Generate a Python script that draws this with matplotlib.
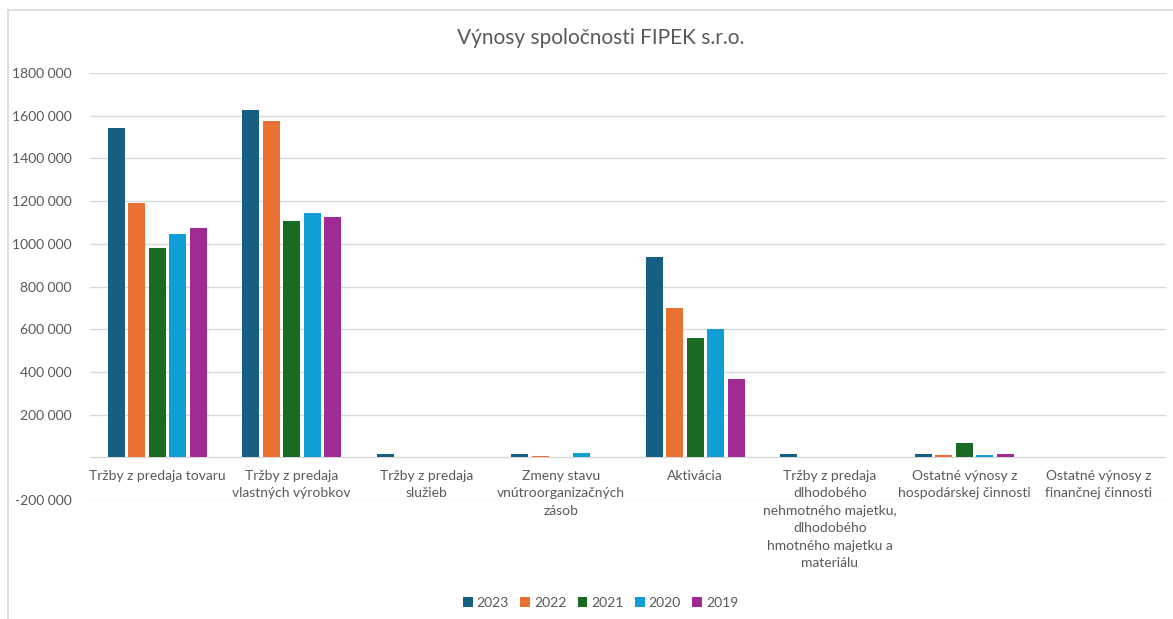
import numpy as np
import matplotlib
matplotlib.use("Agg")
import matplotlib.pyplot as plt
from matplotlib.lines import Line2D
from matplotlib.ticker import FuncFormatter

# údaje odčítané z grafu
kategorie = [
    "Tržby z predaja tovaru",
    "Tržby z predaja\nvlastných výrobkov",
    "Tržby z predaja\nslužieb",
    "Zmeny stavu\nvnútroorganizačných\nzásob",
    "Aktivácia",
    "Tržby z predaja\ndlhodobého\nnehmotného majetku,\ndlhodobého\nhmotného majetku a\nmateriálu",
    "Ostatné výnosy z\nhospodárskej činnosti",
    "Ostatné výnosy z\nfinančnej činnosti",
]
roky = ["2023", "2022", "2021", "2020", "2019"]
v2023 = [1544000, 1628000, 14000, 14000, 940000, 14000, 17000, 0]
v2022 = [1193000, 1577000, 0, 8000, 697000, 0, 12000, 0]
v2021 = [978000, 1109000, 0, 0, 557000, 0, 65000, 0]
v2020 = [1048000, 1146000, 0, 20000, 599000, 0, 12000, 0]
v2019 = [1076000, 1127000, 0, 0, 365000, 0, 17000, 0]
farby = ["#156082", "#E97132", "#196B24", "#0F9ED5", "#A02B93"]

plt.rcParams["font.family"] = ["Lato", "DejaVu Sans"]
seda = "#595959"

fig = plt.figure(figsize=(11.73, 6.19), dpi=100)
ax = fig.add_axes([90 / 1173, 1 - 500 / 619, 1076 / 1173, 427 / 619])

x = np.arange(len(kategorie))
sirka = 0.126
krok = 0.152
serie = [v2023, v2022, v2021, v2020, v2019]
for i, (rok, hodnoty, farba) in enumerate(zip(roky, serie, farby)):
    ax.bar(x + (i - 2) * krok, hodnoty, sirka, color=farba, label=rok,
           linewidth=0, zorder=3)

ax.set_xlim(-0.5, len(kategorie) - 0.5)
ax.set_ylim(-200000, 1800000)
ax.set_yticks(np.arange(-200000, 1800001, 200000))


def fmt(v, p):
    if v == 0:
        return ""
    s = f"{abs(int(v)):,}"
    # oddelovač tisícov len pred poslednou trojicou
    casti = s.split(",")
    s = "".join(casti[:-1]) + " " + casti[-1] if len(casti) > 1 else s
    return ("-" if v < 0 else "") + s


ax.yaxis.set_major_formatter(FuncFormatter(fmt))
ax.tick_params(axis="y", length=0, pad=13, labelsize=10, labelcolor=seda)
ax.set_xticks([])
ax.grid(axis="y", color="#D9D9D9", linewidth=1, zorder=0)
for s in ax.spines.values():
    s.set_visible(False)

for i, nazov in enumerate(kategorie):
    ax.annotate(nazov, xy=(i, 0), xytext=(0, -9), textcoords="offset points",
                ha="center", va="top", fontsize=10, color=seda, linespacing=1.55)

fig.text(0.512, 1 - 38 / 619, "Výnosy spoločnosti FIPEK s.r.o.", ha="center",
         va="center", fontsize=15, color=seda)

fig.legend(loc="center", bbox_to_anchor=(0.512, 1 - 603 / 619), ncol=5,
           frameon=False, fontsize=10, labelcolor=seda, handlelength=0.7,
           handleheight=0.7, handletextpad=0.3, columnspacing=0.8)

# rámček grafu
fig.add_artist(Line2D([8 / 1173, 1], [1 - 10 / 619, 1 - 10 / 619], color="#D9D9D9", linewidth=1.2))
fig.add_artist(Line2D([8 / 1173, 8 / 1173], [0, 1 - 10 / 619], color="#D9D9D9", linewidth=1.2))

fig.savefig("out.png", dpi=100)
